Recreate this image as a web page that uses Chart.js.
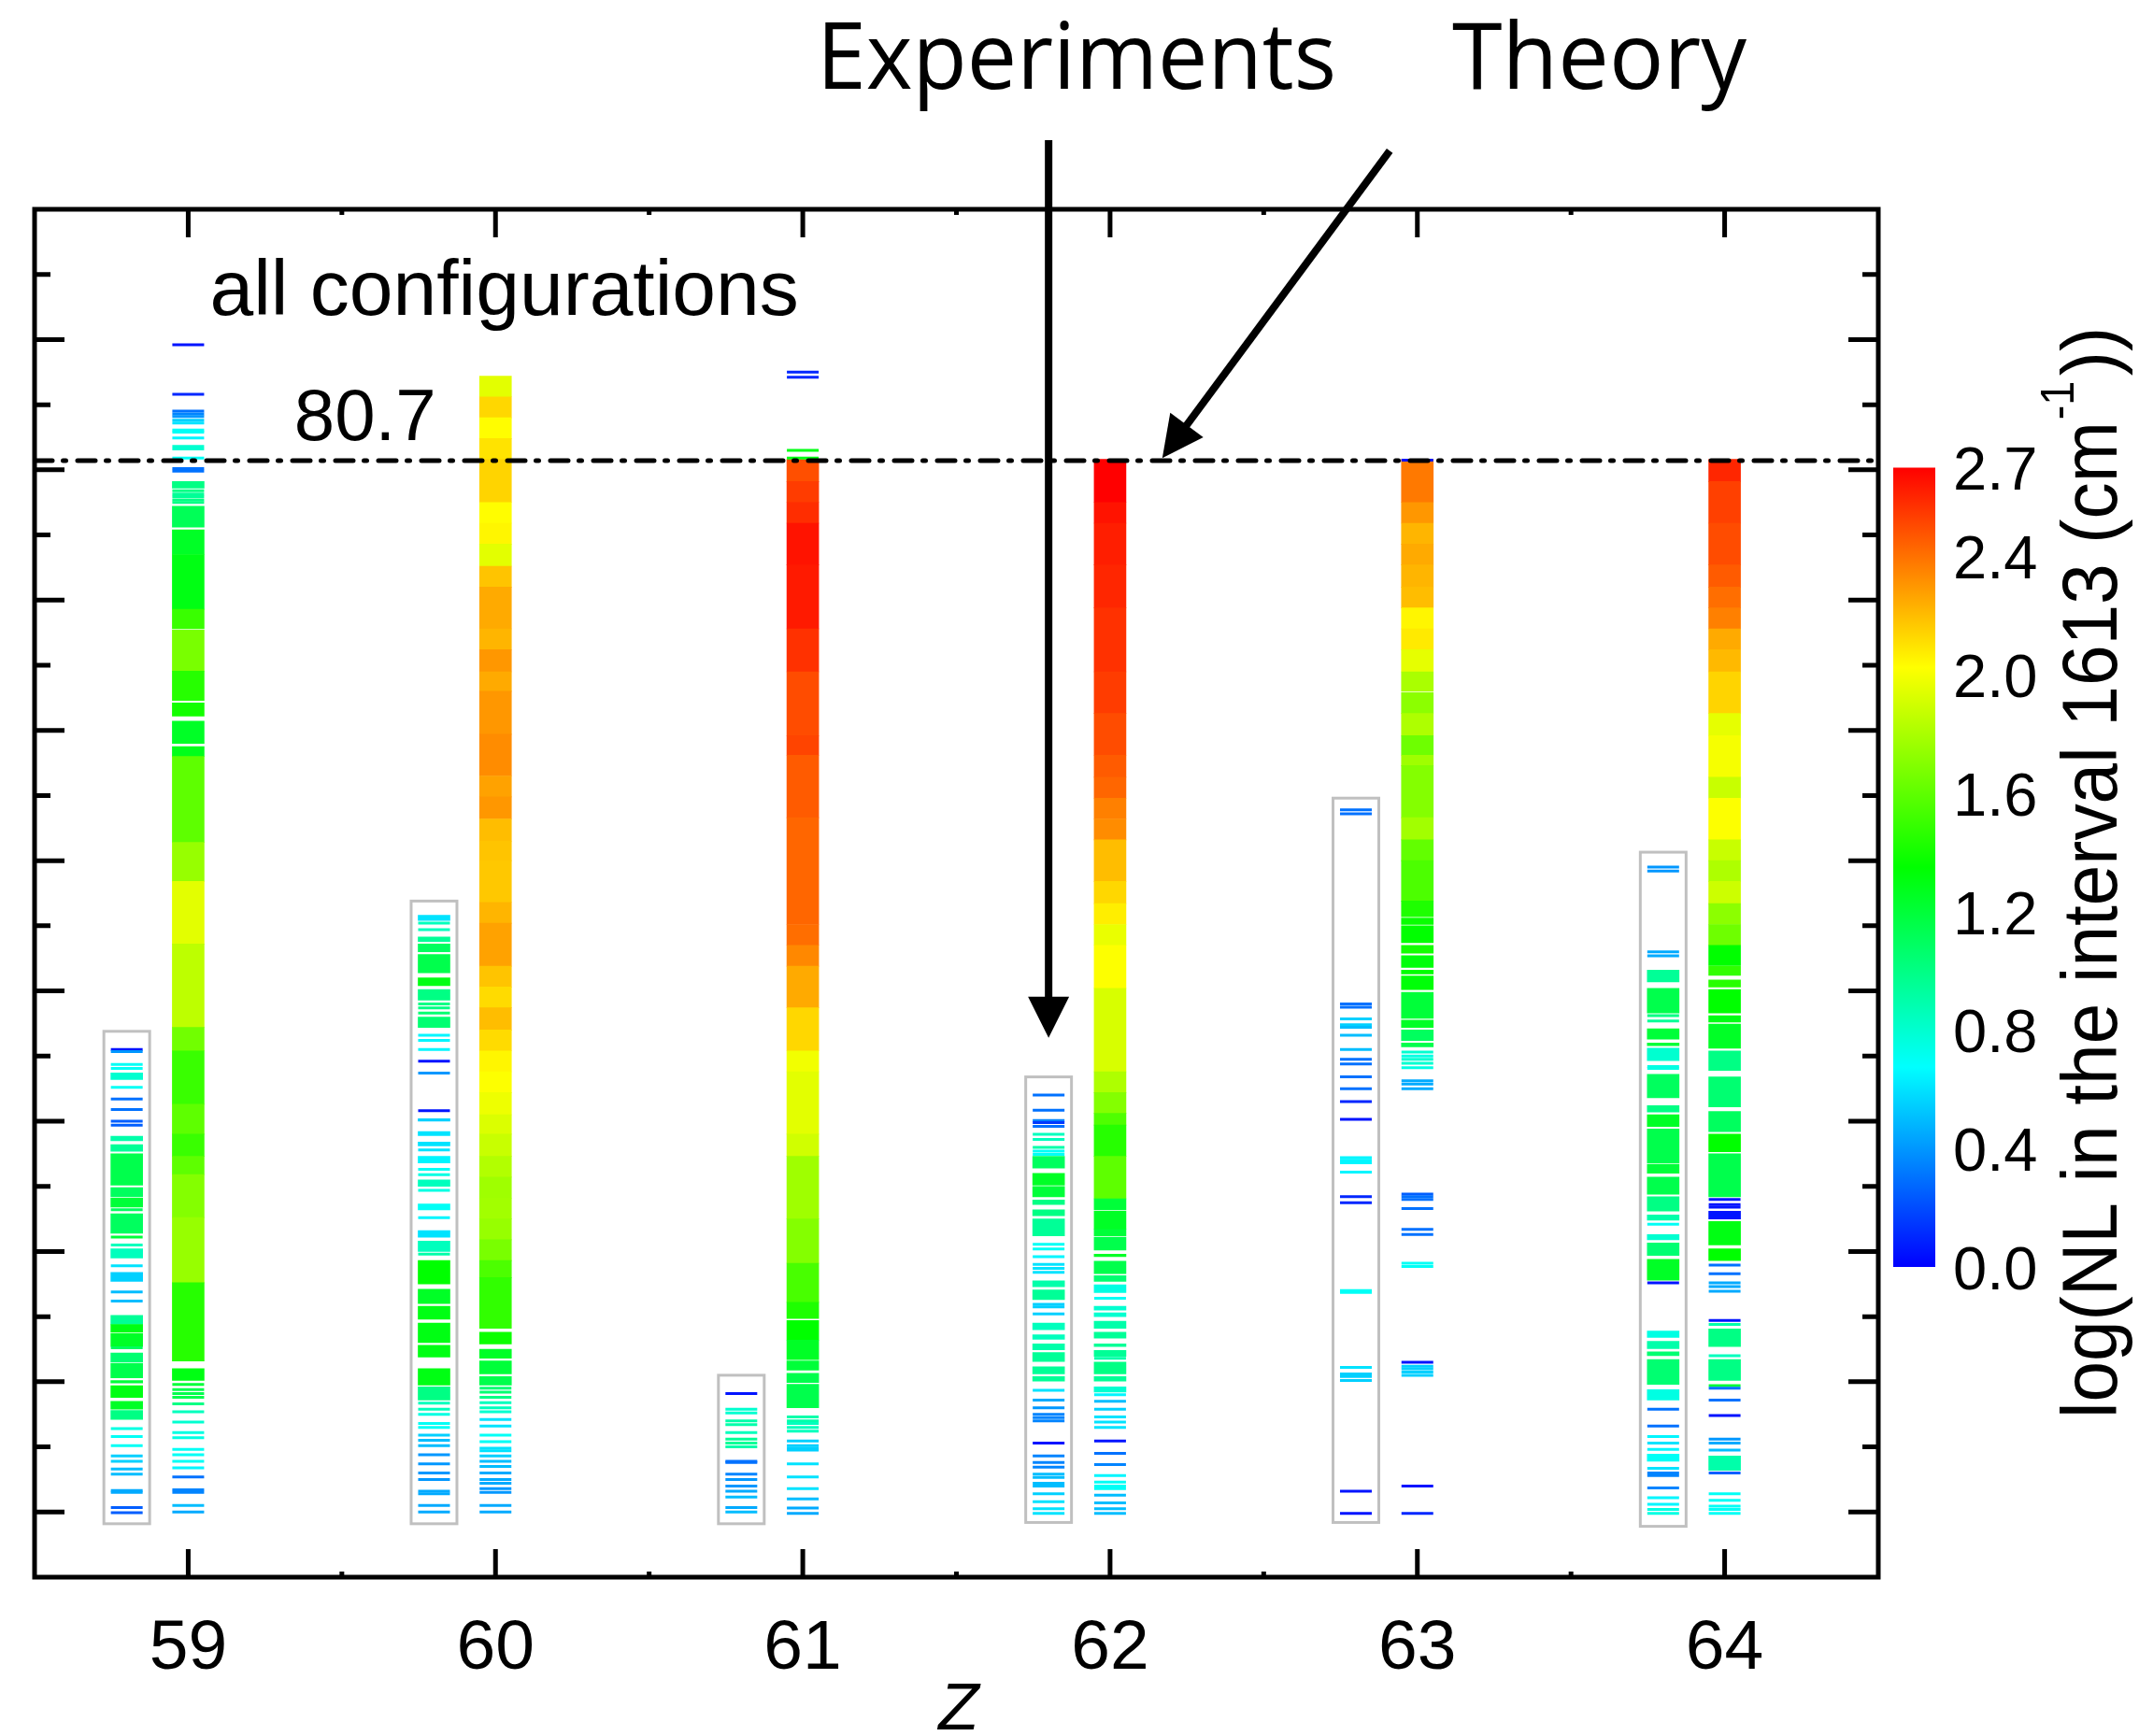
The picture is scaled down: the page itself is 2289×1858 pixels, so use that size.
<!DOCTYPE html>
<html>
<head>
<meta charset="utf-8">
<script src="https://cdn.jsdelivr.net/npm/chart.js@4.4.1/dist/chart.umd.min.js"></script>
<style>
  html, body { margin: 0; padding: 0; background: #fff; }
  canvas { display: block; }
</style>
</head>
<body>
<canvas id="chart" width="2289" height="1858" style="width:2289px;height:1858px"></canvas>
<script>
// nuclear charge Z, experiment columns sit a little to the left of theory
const zTicks = [59, 60, 61, 62, 63, 64];
const expShift = -0.2;
const ionLimit = 80.7;
const yMajorTicks = [0, 10, 20, 30, 40, 50, 60, 70, 80, 90];
const yMinorTicks = [5, 15, 25, 35, 45, 55, 65, 75, 85, 95];
const xMinorTicks = [59.5, 60.5, 61.5, 62.5, 63.5];
const cbTicks = [0.0, 0.4, 0.8, 1.2, 1.6, 2.0, 2.4, 2.7];
const cbMax = 2.7;

// grey frames around the experimental columns (top, bottom)
const expBoxTop = [36.9, 46.9, 10.5, 33.4, 54.8, 50.65];
const expBoxBottom = [-0.9, -0.9, -0.9, -0.8, -0.8, -1.1];

// bands: [from, to, logNL]   lines: [energy, logNL]
const th59Bands = [[78.6,79.1,1.0],[75.6,77.2,1.12],[73.5,75.4,1.25],[69.3,73.5,1.3],[67.8,69.3,1.5],[64.55,67.7,1.67],[62.3,64.55,1.45],[61.1,62.1,1.4],[59.0,60.7,1.25],[58.0,58.75,1.28],[51.4,58.0,1.6],[48.4,51.4,1.75],[43.6,48.4,1.95],[37.2,43.6,1.85],[35.4,37.2,1.65],[31.3,35.4,1.5],[29.0,31.3,1.6],[27.3,29.0,1.5],[25.9,27.3,1.6],[22.6,25.9,1.7],[17.6,22.6,1.75],[11.6,17.6,1.45],[10.1,11.0,1.3]];
const th59Lines = [[89.6,0.05],[85.8,0.1],[84.5,0.3],[84.3,0.35],[84.1,0.4],[83.8,0.55],[83.6,0.6],[83.05,0.7],[82.9,0.7],[82.45,0.65],[81.8,0.8],[81.6,0.8],[80.9,0.7],[80.1,0.3],[79.9,0.3],[78.4,1.0],[78.15,0.95],[77.95,0.95],[77.7,1.0],[77.5,1.0],[9.8,1.2],[9.4,1.15],[9.1,1.15],[8.8,1.15],[8.3,1.0],[7.7,0.85],[6.9,0.8],[6.1,0.75],[5.7,0.75],[4.8,0.7],[4.4,0.7],[3.9,0.7],[3.4,0.65],[2.7,0.3],[1.7,0.35],[1.5,0.35],[0.5,0.5],[0.0,0.45]];
const ex59Bands = [[33.2,33.7,0.8],[28.5,28.85,0.9],[27.7,28.2,0.95],[25.1,27.5,1.15],[24.2,24.9,1.1],[23.4,24.1,1.2],[21.4,22.9,1.1],[19.5,20.2,0.85],[17.7,18.4,0.55],[14.4,15.1,0.95],[13.8,14.4,1.3],[12.7,13.7,1.25],[11.5,12.2,1.05],[10.3,11.4,1.15],[9.9,10.1,1.2],[8.8,9.7,1.3],[7.9,8.5,1.25],[7.1,7.8,1.0]];
const ex59Lines = [[35.5,0.05],[35.35,0.4],[34.35,0.7],[34.05,0.7],[32.6,0.7],[31.7,0.3],[30.9,0.3],[30.0,0.25],[29.7,0.25],[23.2,1.1],[21.1,1.2],[20.5,0.85],[18.9,0.6],[16.9,0.5],[16.2,0.5],[12.6,1.1],[6.4,0.75],[5.8,0.7],[5.1,0.7],[4.3,0.55],[3.9,0.55],[3.3,0.5],[2.9,0.5],[1.65,0.45],[1.5,0.45],[0.35,0.25],[-0.05,0.25]];

const th60Bands = [[85.6,87.2,1.95],[84.0,85.6,2.13],[82.4,84.0,2.03],[80.8,82.4,2.1],[77.5,80.8,2.14],[75.9,77.5,2.03],[74.3,75.9,2.05],[72.6,74.3,1.95],[71.0,72.6,2.18],[67.8,71.0,2.25],[66.2,67.8,2.22],[64.5,66.2,2.3],[63.0,64.5,2.25],[59.7,63.0,2.3],[56.5,59.7,2.33],[54.9,56.5,2.27],[53.2,54.9,2.3],[51.5,53.2,2.2],[50.0,51.5,2.18],[46.8,50.0,2.17],[45.2,46.8,2.22],[41.9,45.2,2.27],[40.3,41.9,2.18],[38.7,40.3,2.12],[37.0,38.7,2.2],[35.4,37.0,2.12],[33.8,35.4,2.05],[32.2,33.8,2.02],[30.5,32.2,1.98],[29.0,30.5,1.93],[27.3,29.0,1.88],[25.7,27.3,1.82],[24.1,25.7,1.77],[22.5,24.1,1.78],[20.9,22.5,1.75],[19.3,20.9,1.67],[18.0,19.3,1.55],[14.1,18.0,1.48],[12.9,13.8,1.38],[11.8,12.5,1.25],[10.6,11.6,1.2],[9.75,10.4,1.15]];
const th60Lines = [[9.5,1.05],[9.2,1.05],[8.8,1.0],[8.4,0.85],[8.0,0.85],[7.7,0.8],[7.1,0.6],[6.6,0.6],[5.9,0.7],[5.4,0.7],[4.9,0.6],[4.7,0.6],[4.3,0.55],[3.9,0.5],[3.5,0.5],[3.0,0.45],[2.5,0.45],[2.2,0.45],[1.8,0.4],[1.5,0.4],[0.5,0.45],[0.0,0.45]];
const ex60Bands = [[45.4,45.8,0.6],[43.8,44.15,0.95],[43.0,43.6,1.1],[41.4,42.8,1.15],[40.4,41.0,1.3],[39.3,40.1,1.0],[37.2,38.0,1.05],[30.0,30.2,0.55],[28.9,29.2,0.6],[28.1,28.4,0.6],[26.8,27.3,0.65],[25.0,25.5,0.85],[23.2,23.65,0.7],[21.1,21.6,0.6],[20.0,20.8,0.85],[17.5,19.3,1.35],[16.0,17.1,1.25],[14.8,15.8,1.3],[13.0,14.5,1.3],[11.9,12.8,1.3],[9.75,11.0,1.3],[8.6,9.6,1.0]];
const ex60Lines = [[45.2,0.85],[44.7,0.85],[39.0,1.0],[38.7,1.0],[38.3,1.05],[36.6,0.65],[36.2,0.65],[35.5,0.65],[34.6,0.05],[33.7,0.4],[30.8,0.05],[27.8,0.6],[26.3,0.7],[25.9,0.75],[24.7,0.75],[22.6,0.65],[19.8,0.9],[8.35,0.85],[7.9,0.85],[7.5,0.75],[6.8,0.7],[6.5,0.7],[5.9,0.55],[5.5,0.5],[5.1,0.5],[4.4,0.4],[3.7,0.4],[3.0,0.4],[2.5,0.4],[1.6,0.45],[1.4,0.45],[0.5,0.45],[0.0,0.45]];

const th61Bands = [[79.1,80.8,2.49],[77.5,79.1,2.54],[75.9,77.5,2.58],[72.7,75.9,2.65],[67.8,72.7,2.63],[64.5,67.8,2.57],[59.6,64.5,2.5],[58.1,59.6,2.52],[53.3,58.1,2.46],[45.1,53.3,2.43],[43.5,45.1,2.41],[41.9,43.5,2.34],[38.7,41.9,2.25],[35.4,38.7,2.13],[33.8,35.4,1.99],[29.0,33.8,1.95],[27.3,29.0,1.9],[22.5,27.3,1.77],[19.1,22.5,1.7],[16.1,19.1,1.54],[14.85,16.1,1.43],[13.2,14.7,1.35],[11.7,13.2,1.25],[10.9,11.6,1.2],[9.95,10.65,1.15],[8.0,9.8,1.15]];
const th61Lines = [[87.5,0.1],[87.1,0.1],[81.5,1.3],[80.9,1.3],[7.3,0.9],[7.0,0.9],[6.8,0.85],[6.5,0.85],[6.2,0.85],[5.45,0.55],[5.1,0.55],[4.9,0.55],[4.75,0.55],[3.7,0.6],[2.7,0.6],[1.8,0.6],[1.0,0.5],[0.3,0.45],[-0.1,0.45]];
const ex61Bands = [];
const ex61Lines = [[9.1,0.05],[7.9,0.8],[7.6,0.8],[7.0,0.9],[6.7,0.9],[6.1,0.85],[5.6,0.95],[5.3,0.95],[5.0,0.9],[3.9,0.3],[3.8,0.3],[2.9,0.35],[2.5,0.4],[2.0,0.4],[1.6,0.45],[1.15,0.5],[0.35,0.45],[0.0,0.5]];

const th62Bands = [[77.5,80.8,2.7],[75.9,77.5,2.65],[72.7,75.9,2.62],[69.4,72.7,2.6],[64.5,69.4,2.57],[61.3,64.5,2.54],[58.1,61.3,2.5],[56.4,58.1,2.46],[54.8,56.4,2.43],[53.2,54.8,2.36],[51.6,53.2,2.33],[48.4,51.6,2.2],[46.7,48.4,2.13],[45.1,46.7,2.07],[43.5,45.1,1.97],[40.2,43.5,2.02],[33.8,40.2,1.92],[32.2,33.8,1.81],[30.6,32.2,1.7],[29.7,30.6,1.56],[27.3,29.7,1.45],[24.05,27.3,1.6],[23.2,24.05,1.2],[21.7,23.1,1.25],[21.2,21.7,1.2],[20.1,21.1,1.15],[19.6,19.8,1.25],[18.3,19.25,1.15],[17.7,18.15,1.05],[16.85,17.45,0.75],[15.5,15.8,0.8],[15.0,15.3,0.8],[14.1,14.65,0.9],[13.35,13.8,0.95],[12.7,12.9,0.95],[11.95,12.4,0.95],[10.6,11.5,1.0],[10.05,10.4,0.95],[9.2,9.6,0.8]];
const th62Lines = [[16.4,0.7],[11.8,0.9],[9.0,0.65],[8.5,0.5],[7.9,0.55],[7.3,0.6],[6.9,0.6],[6.5,0.6],[5.45,0.05],[4.5,0.3],[3.65,0.35],[2.8,0.65],[2.3,0.7],[2.0,0.7],[1.8,0.7],[1.3,0.5],[0.7,0.5],[0.25,0.5],[-0.1,0.5]];
const ex62Bands = [[26.4,27.3,1.1],[25.1,26.0,1.25],[24.2,25.0,1.2],[23.6,23.95,1.0],[22.75,23.2,1.0],[21.2,22.5,0.95],[17.3,17.75,0.9],[16.3,17.05,0.95],[14.0,14.5,0.85],[13.25,13.6,0.85],[12.45,12.9,0.9],[11.55,12.25,0.95],[10.6,11.15,0.95],[10.05,10.4,0.95]];
const ex62Lines = [[32.0,0.3],[30.85,0.3],[30.05,0.35],[29.9,0.15],[29.6,0.3],[29.0,0.85],[28.6,0.85],[28.0,0.9],[27.7,0.7],[27.45,0.7],[20.55,0.7],[20.2,0.7],[19.6,0.65],[19.0,0.6],[18.7,0.6],[18.4,0.6],[15.95,0.55],[15.75,0.55],[15.2,0.55],[9.35,0.6],[8.6,0.45],[8.0,0.4],[7.5,0.35],[7.25,0.35],[7.0,0.35],[5.3,0.05],[4.3,0.35],[3.8,0.35],[3.45,0.35],[2.9,0.5],[2.65,0.5],[2.2,0.5],[2.0,0.5],[1.4,0.55],[0.8,0.6],[0.25,0.6],[-0.1,0.6]];

const th63Bands = [[77.5,80.8,2.38],[75.9,77.5,2.3],[74.3,75.9,2.22],[72.7,74.3,2.25],[71.0,72.7,2.22],[69.4,71.0,2.2],[67.8,69.4,2.05],[66.2,67.8,2.08],[64.5,66.2,1.96],[63.0,64.5,1.8],[61.3,62.9,1.72],[59.6,61.3,1.81],[58.1,59.6,1.64],[57.3,58.1,1.77],[53.3,57.3,1.7],[51.6,53.3,1.78],[50.0,51.6,1.61],[46.9,50.0,1.55],[45.7,46.9,1.43],[45.1,45.6,1.37],[43.7,45.0,1.35],[42.9,43.5,1.4],[41.8,42.7,1.32],[41.3,41.6,1.35],[40.1,41.15,1.33],[37.9,39.9,1.2],[37.2,37.75,1.25],[36.2,37.0,1.1],[35.7,36.0,1.15]];
const th63Lines = [[80.75,0.05],[35.3,0.8],[35.0,0.75],[34.75,0.8],[34.45,0.8],[34.1,0.75],[33.1,0.45],[32.85,0.45],[32.5,0.45],[24.4,0.25],[24.2,0.3],[24.0,0.3],[23.3,0.3],[21.7,0.3],[21.3,0.3],[19.1,0.7],[18.85,0.7],[11.5,0.05],[11.2,0.55],[11.0,0.55],[10.75,0.55],[10.5,0.55],[2.0,0.05],[-0.1,0.1]];
const ex63Bands = [];
const ex63Lines = [[53.9,0.3],[53.6,0.3],[39.0,0.3],[38.75,0.3],[37.85,0.55],[37.4,0.55],[37.2,0.5],[36.6,0.5],[35.5,0.5],[34.75,0.3],[34.4,0.3],[33.4,0.3],[32.5,0.3],[31.5,0.1],[30.15,0.05],[27.2,0.65],[27.0,0.65],[26.8,0.65],[26.1,0.65],[24.2,0.1],[23.75,0.1],[17.0,0.7],[16.85,0.7],[11.1,0.6],[10.6,0.55],[10.4,0.55],[10.1,0.55],[1.6,0.05],[-0.1,0.05]];

const th64Bands = [[79.1,80.8,2.6],[75.9,79.1,2.53],[72.7,75.9,2.5],[71.0,72.7,2.46],[69.4,71.0,2.41],[67.8,69.4,2.36],[66.2,67.8,2.25],[64.5,66.2,2.21],[61.3,64.5,2.14],[59.6,61.3,1.96],[56.4,59.6,2.0],[54.8,56.4,1.88],[51.6,54.8,2.02],[50.0,51.6,1.88],[48.4,50.0,1.81],[46.7,48.4,1.89],[45.1,46.7,1.72],[43.5,45.1,1.64],[41.95,43.5,1.35],[41.2,41.9,1.48],[40.3,40.85,1.45],[38.3,40.1,1.35],[37.6,38.1,1.3],[35.6,37.45,1.25],[33.9,35.4,1.0],[31.1,33.4,1.05],[29.2,30.75,1.1],[27.65,29.0,1.35],[24.2,27.5,1.15],[22.5,23.1,0.05],[20.5,22.3,1.3],[19.3,20.2,1.35],[12.7,14.05,1.0],[10.1,11.7,1.0],[3.2,4.3,0.9]];
const th64Lines = [[24.0,0.05],[23.6,0.05],[23.4,0.05],[18.95,0.3],[18.3,0.3],[17.6,0.45],[17.3,0.45],[16.95,0.45],[14.7,0.05],[14.4,0.9],[12.0,0.85],[9.7,1.2],[9.5,0.3],[8.6,0.3],[7.4,0.05],[5.6,0.4],[5.3,0.45],[4.75,0.5],[3.0,0.25],[1.4,0.7],[0.9,0.7],[0.45,0.7],[0.2,0.7],[-0.1,0.7]];
const ex64Bands = [[40.7,41.6,0.95],[38.3,40.2,1.15],[36.3,37.1,1.2],[35.8,36.0,1.2],[34.65,35.6,0.8],[31.8,33.6,1.1],[30.7,31.2,1.0],[29.6,30.5,1.25],[26.8,29.4,1.15],[26.0,26.7,1.2],[24.4,25.7,1.15],[23.1,24.2,1.0],[22.4,22.8,0.9],[20.9,21.3,0.8],[19.7,20.65,1.05],[17.8,19.4,1.25],[13.4,13.9,0.75],[12.55,13.1,0.9],[12.0,12.3,1.05],[9.8,11.7,1.05],[8.6,9.4,0.75],[3.9,4.45,0.7]];
const ex64Lines = [[49.5,0.4],[49.2,0.4],[43.0,0.45],[42.7,0.45],[38.1,1.0],[37.7,0.95],[34.2,0.75],[34.05,0.75],[22.1,0.7],[17.6,0.05],[7.9,0.3],[6.6,0.3],[5.8,0.65],[5.3,0.6],[4.8,0.65],[3.35,0.6],[3.0,0.35],[2.8,0.35],[1.85,0.35],[1.1,0.65],[0.6,0.65],[0.2,0.75],[-0.1,0.75]];

const thBands = [th59Bands, th60Bands, th61Bands, th62Bands, th63Bands, th64Bands];
const thLines = [th59Lines, th60Lines, th61Lines, th62Lines, th63Lines, th64Lines];
const exBands = [ex59Bands, ex60Bands, ex61Bands, ex62Bands, ex63Bands, ex64Bands];
const exLines = [ex59Lines, ex60Lines, ex61Lines, ex62Lines, ex63Lines, ex64Lines];

// rainbow colour map of the colour bar
const cmapStops = [[0, 0, 0, 255], [0.675, 0, 255, 255], [1.35, 0, 255, 0], [2.025, 255, 255, 0], [2.7, 255, 0, 0]];
function cmap(v) {
  v = Math.max(0, Math.min(cbMax, v));
  for (let i = 1; i < cmapStops.length; i++) {
    const a = cmapStops[i - 1], b = cmapStops[i];
    if (v <= b[0]) {
      const t = (v - a[0]) / (b[0] - a[0]);
      const c = [1, 2, 3].map(k => Math.round(a[k] + (b[k] - a[k]) * t));
      return 'rgb(' + c.join(',') + ')';
    }
  }
  return 'rgb(255,0,0)';
}

const bars = [];
const dashes = [];
zTicks.forEach((z, i) => {
  thBands[i].forEach(r => bars.push({ x: z, y: [r[0], r[1]], v: r[2] }));
  exBands[i].forEach(r => bars.push({ x: z + expShift, y: [r[0], r[1]], v: r[2] }));
  thLines[i].forEach(r => dashes.push({ x: z, y: r[0], v: r[1] }));
  exLines[i].forEach(r => dashes.push({ x: z + expShift, y: r[0], v: r[1] }));
});

function arrow(ctx, x1, y1, x2, y2) {
  const ang = Math.atan2(y2 - y1, x2 - x1);
  const hl = 44, hw = 22;
  const bx = x2 - Math.cos(ang) * hl, by = y2 - Math.sin(ang) * hl;
  ctx.beginPath();
  ctx.moveTo(x1, y1);
  ctx.lineTo(bx + Math.cos(ang) * 4, by + Math.sin(ang) * 4);
  ctx.stroke();
  ctx.beginPath();
  ctx.moveTo(x2, y2);
  ctx.lineTo(bx + Math.sin(ang) * hw, by - Math.cos(ang) * hw);
  ctx.lineTo(bx - Math.sin(ang) * hw, by + Math.cos(ang) * hw);
  ctx.closePath();
  ctx.fill();
}

function fitText(ctx, text, x, y, w) {
  const m = ctx.measureText(text).width;
  ctx.save();
  ctx.translate(x, y);
  ctx.scale(w / m, 1);
  ctx.fillText(text, 0, 0);
  ctx.restore();
}

const decor = {
  id: 'decor',
  beforeDatasetsDraw(chart) {
    const { ctx, scales: { x, y } } = chart;
    ctx.save();
    ctx.strokeStyle = '#c0c0c0';
    ctx.lineWidth = 3;
    zTicks.forEach((z, i) => {
      const cx = x.getPixelForValue(z + expShift);
      const t = y.getPixelForValue(expBoxTop[i]);
      const b = y.getPixelForValue(expBoxBottom[i]);
      ctx.strokeRect(cx - 24.5, t, 49, b - t);
    });
    ctx.restore();
  },
  afterDraw(chart) {
    const { ctx, chartArea: a, scales: { x, y } } = chart;
    ctx.save();
    ctx.strokeStyle = '#000';
    ctx.fillStyle = '#000';
    ctx.lineCap = 'butt';
    // frame
    ctx.lineWidth = 5;
    ctx.strokeRect(a.left, a.top, a.right - a.left, a.bottom - a.top);
    // y ticks, both sides, inward
    const tick = (vals, len) => vals.forEach(v => {
      const py = y.getPixelForValue(v);
      ctx.beginPath();
      ctx.moveTo(a.left, py); ctx.lineTo(a.left + len, py);
      ctx.moveTo(a.right, py); ctx.lineTo(a.right - len, py);
      ctx.stroke();
    });
    tick(yMajorTicks, 32);
    tick(yMinorTicks, 17);
    // x ticks, top and bottom, inward
    const xtick = (vals, len) => vals.forEach(v => {
      const px = x.getPixelForValue(v);
      ctx.beginPath();
      ctx.moveTo(px, a.bottom); ctx.lineTo(px, a.bottom - len);
      ctx.moveTo(px, a.top); ctx.lineTo(px, a.top + len);
      ctx.stroke();
    });
    xtick(zTicks, 30);
    xtick(xMinorTicks, 6);

    // texts inside the frame
    ctx.textBaseline = 'alphabetic';
    ctx.textAlign = 'left';
    ctx.font = '84px "Liberation Sans", Arial, sans-serif';
    ctx.fillText('all configurations', x.getPixelForValue(59.07), y.getPixelForValue(91.9));
    ctx.font = '78px "Liberation Sans", Arial, sans-serif';
    ctx.fillText('80.7', x.getPixelForValue(59.345), y.getPixelForValue(82.3));

    // title words and arrows
    ctx.font = '98px "Open Sans", sans-serif';
    fitText(ctx, 'Experiments', 874, 95, 556);
    fitText(ctx, 'Theory', 1554, 95, 315);
    ctx.lineWidth = 8;
    arrow(ctx, x.getPixelForValue(61.8), y.getPixelForValue(105.3), x.getPixelForValue(61.8), y.getPixelForValue(36.4));
    arrow(ctx, x.getPixelForValue(62.91), y.getPixelForValue(104.5), x.getPixelForValue(62.17), y.getPixelForValue(80.9));

    // axis title
    ctx.font = 'italic 71px "Liberation Sans", Arial, sans-serif';
    ctx.textAlign = 'center';
    ctx.fillText('Z', 1026, 1851);

    // colour bar
    const cx0 = 2026, cx1 = 2071, cy0 = 500.5, cy1 = 1356;
    const g = ctx.createLinearGradient(0, cy1, 0, cy0);
    cmapStops.forEach(s => g.addColorStop(s[0] / cbMax, `rgb(${s[1]},${s[2]},${s[3]})`));
    ctx.fillStyle = g;
    ctx.fillRect(cx0, cy0, cx1 - cx0, cy1 - cy0);
    ctx.fillStyle = '#000';
    ctx.font = '65px "Liberation Sans", Arial, sans-serif';
    ctx.textAlign = 'left';
    ctx.textBaseline = 'middle';
    cbTicks.forEach(v => {
      ctx.fillText(v.toFixed(1), 2090, cy1 - v / cbMax * (cy1 - cy0) + 6);
    });

    // colour bar title, rotated
    ctx.save();
    ctx.translate(2265, 1518);
    ctx.rotate(-Math.PI / 2);
    ctx.textBaseline = 'alphabetic';
    const mainF = '84px "Liberation Sans", Arial, sans-serif';
    const supF = '50px "Liberation Sans", Arial, sans-serif';
    const p1 = 'log(NL in the interval 1613 (cm', p2 = '-1', p3 = '))';
    ctx.font = mainF;
    const w1 = ctx.measureText(p1).width, w3 = ctx.measureText(p3).width;
    ctx.font = supF;
    const w2 = ctx.measureText(p2).width;
    const s = 1168 / (w1 + w2 + w3 + 8);
    ctx.scale(s, 1);
    ctx.font = mainF;
    ctx.fillText(p1, 0, 0);
    ctx.font = supF;
    ctx.fillText(p2, w1 + 2, -46);
    ctx.font = mainF;
    ctx.fillText(p3, w1 + w2 + 8, 0);
    ctx.restore();

    ctx.restore();
  }
};

const ctx = document.getElementById('chart').getContext('2d');
const chart = new Chart(ctx, {
  type: 'bar',
  data: {
    datasets: [
      {
        type: 'line',
        data: [{ x: 58.5, y: ionLimit }, { x: 64.5, y: ionLimit }],
        borderColor: '#000', borderWidth: 5, borderDash: [19, 11.5, 3, 12.5],
        borderCapStyle: 'round',
        pointRadius: 0, order: 1
      },
      {
        type: 'scatter',
        data: dashes,
        pointStyle: 'line', pointRadius: 17, pointHoverRadius: 17,
        pointBorderWidth: 3,
        pointBorderColor: c => c.raw ? cmap(c.raw.v) : '#000',
        order: 2
      },
      {
        type: 'bar',
        data: bars,
        backgroundColor: c => c.raw ? cmap(c.raw.v) : '#000',
        barThickness: 34, grouped: false, borderWidth: 0, borderSkipped: false,
        order: 3
      }
    ]
  },
  options: {
    responsive: false,
    animation: false,
    devicePixelRatio: 1,
    layout: { padding: { left: 37, right: 279, top: 224, bottom: 0 } },
    plugins: { legend: { display: false }, tooltip: { enabled: false } },
    scales: {
      x: {
        type: 'linear', min: 58.5, max: 64.5, offset: false,
        grid: { display: false, drawTicks: false },
        border: { display: false },
        afterBuildTicks: s => { s.ticks = zTicks.map(v => ({ value: v })); },
        afterFit: s => { s.height = 170; },
        ticks: {
          autoSkip: false, maxRotation: 0, padding: 32, color: '#000',
          font: { family: '"Liberation Sans", Arial, sans-serif', size: 75 },
          callback: v => String(v)
        }
      },
      y: { min: -5, max: 100, display: false }
    }
  },
  plugins: [decor]
});
</script>
</body>
</html>
